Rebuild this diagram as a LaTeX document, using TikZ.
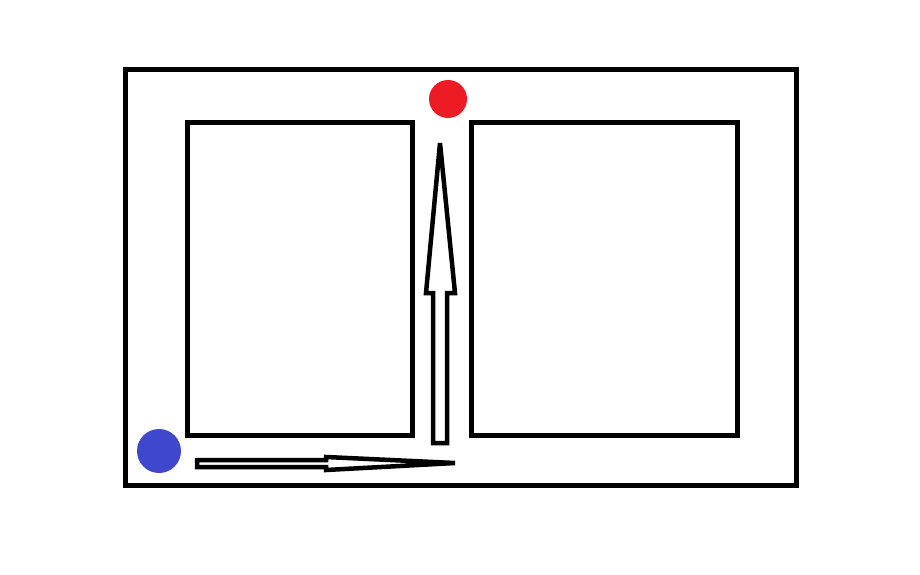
\documentclass[tikz,border=0pt]{standalone}
\usepackage{tikz}
\usetikzlibrary{positioning}
\definecolor{paintred}{HTML}{ED1C24}
\definecolor{paintblue}{HTML}{3F48CC}

\begin{document}
\begin{tikzpicture}[x=1pt, y=-1pt]
        \tikzset{
        wall/.style   = {draw, line width=5pt},
        outline/.style= {draw, line width=4.5pt, line join=miter},
        dot/.style    = {circle, inner sep=0pt}
        }
        \useasboundingbox (0,0) rectangle (920,574);

        % Outer frame and the two blocks
        \draw[wall] (125,69) rectangle (796,485);
        \draw[wall] (187.5,122.5) rectangle (412,435);
        \draw[wall] (471,122.5) rectangle (737,435);

        % Start and goal
        \node[dot, fill=paintblue, minimum size=44pt] (start) at (159,451) {};
        \node[dot, fill=paintred, minimum size=38pt] (goal) at (448,99) {};

        % Arrow along the bottom
        \draw[outline] (197,460) -- (326,460) -- (326,457) -- (455,463)
            -- (326,470) -- (326,467) -- (197,467) -- cycle;

        % Arrow up the middle
        \draw[outline] (433,443) -- (433,293) -- (426,293) -- (440,143)
            -- (455,293) -- (447,293) -- (447,443) -- cycle;
    \end{tikzpicture}
\end{document}
